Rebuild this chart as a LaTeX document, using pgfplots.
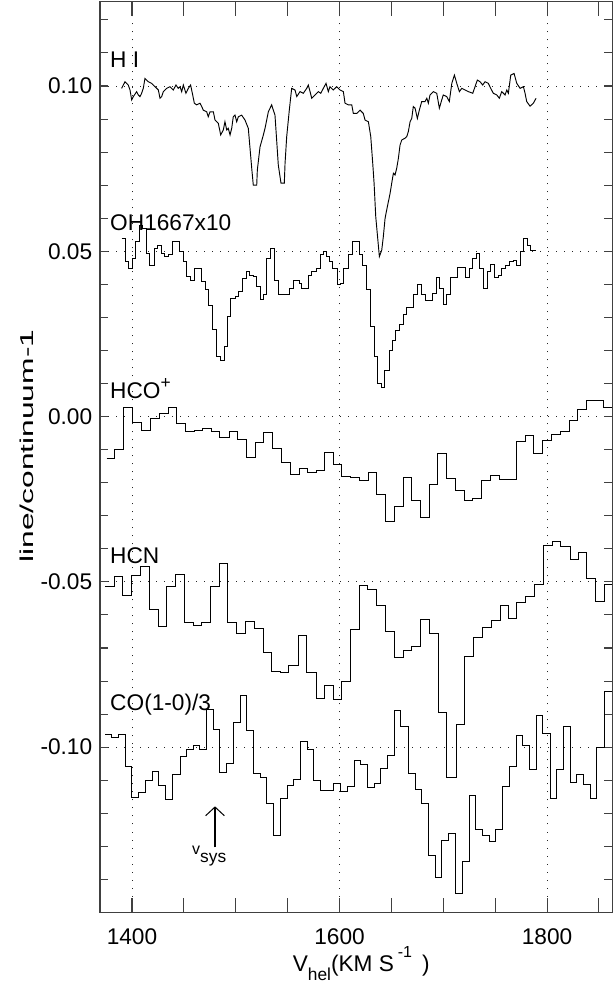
\documentclass[border=0pt]{standalone}
\usepackage{pgfplots}
\pgfplotsset{compat=1.18}
\usepackage{fontspec}
\setmainfont{Liberation Sans}
\usetikzlibrary{arrows.meta}
\begin{document}
\begin{tikzpicture}
\fontsize{17}{20}\selectfont
\begin{axis}[
  scale only axis, width=384pt, height=682.9pt,
  xmin=1369.2, xmax=1862.7, ymin=-0.150, ymax=0.1255,
  clip=false,
  axis line style={line width=0.9pt, black!75},
  xtick={1400,1600,1800}, xticklabels={1400,1600,1800},
  minor xtick={1450,1500,1550,1650,1700,1750,1850},
  ytick={-0.10,-0.05,0,0.05,0.10}, yticklabels={-0.10,-0.05,0.00,0.05,0.10},
  minor ytick={-0.14,-0.13,-0.12,-0.11,-0.09,-0.08,-0.07,-0.06,-0.04,-0.03,-0.02,-0.01,0.01,0.02,0.03,0.04,0.06,0.07,0.08,0.09,0.11,0.12},
  tick style={line width=0.8pt, black!75},
  xtick style={/pgfplots/major tick length=10.5pt, /pgfplots/minor tick length=10.5pt},
  ytick style={/pgfplots/major tick length=6pt, /pgfplots/minor tick length=6pt},
  grid=major,
  major grid style={black!85, line width=0.7pt, dash pattern=on 0.7pt off 5.3pt},
  tick label style={font=\fontsize{17}{20}\selectfont},
  xticklabel style={yshift=-6pt},
]
\coordinate (bl) at (rel axis cs:0,0);
\coordinate (tr) at (rel axis cs:1,1);
% H I
\addplot[black, line width=0.7pt] coordinates {(1390.0,0.0993)(1393.3,0.1013)(1396.4,0.1003)(1398.1,0.0988)(1399.7,0.0958)(1401.3,0.0968)(1404.5,0.0983)(1406.1,0.0973)(1407.7,0.0968)(1409.3,0.0978)(1410.9,0.0993)(1412.5,0.1023)(1415.7,0.1013)(1419.0,0.1008)(1422.2,0.0998)(1425.4,0.0988)(1427.0,0.0963)(1428.6,0.0968)(1430.2,0.0983)(1433.4,0.0993)(1436.6,0.0998)(1439.8,0.0988)(1442.4,0.1003)(1444.6,0.0993)(1446.3,0.0998)(1447.9,0.0983)(1449.5,0.1003)(1452.0,0.0978)(1454.3,0.0993)(1456.5,0.1003)(1458.5,0.0973)(1460.1,0.0948)(1462.3,0.0943)(1465.5,0.0948)(1467.2,0.0938)(1468.7,0.0927)(1472.0,0.0922)(1473.5,0.0907)(1475.2,0.0922)(1478.4,0.0922)(1480.0,0.0897)(1483.2,0.0887)(1485.5,0.0852)(1488.0,0.0867)(1489.6,0.0892)(1491.3,0.0867)(1492.8,0.0872)(1494.5,0.0852)(1496.1,0.0872)(1497.6,0.0907)(1499.3,0.0912)(1500.9,0.0892)(1502.5,0.0907)(1505.7,0.0912)(1508.9,0.0897)(1512.1,0.0872)(1515.4,0.0751)(1516.9,0.0700)(1520.2,0.0700)(1520.8,0.0746)(1523.4,0.0816)(1526.6,0.0852)(1528.2,0.0872)(1531.4,0.0922)(1534.6,0.0943)(1536.2,0.0927)(1537.8,0.0912)(1541.0,0.0761)(1543.6,0.0706)(1546.8,0.0706)(1547.5,0.0766)(1549.1,0.0847)(1551.6,0.0927)(1553.9,0.0993)(1557.1,0.0988)(1558.8,0.0968)(1561.9,0.0983)(1565.1,0.0978)(1568.4,0.0993)(1569.9,0.1003)(1571.6,0.0983)(1573.2,0.0963)(1576.4,0.0973)(1579.6,0.0983)(1581.9,0.0978)(1584.4,0.0993)(1587.0,0.1008)(1589.2,0.0983)(1590.8,0.0998)(1594.0,0.0988)(1597.3,0.0998)(1600.5,0.0988)(1603.7,0.0983)(1605.3,0.0948)(1608.5,0.0943)(1611.8,0.0943)(1613.3,0.0917)(1616.6,0.0917)(1619.8,0.0927)(1622.9,0.0917)(1624.6,0.0897)(1627.8,0.0892)(1630.1,0.0847)(1632.0,0.0766)(1633.3,0.0706)(1634.9,0.0605)(1636.8,0.0539)(1638.4,0.0484)(1640.7,0.0504)(1642.2,0.0544)(1643.9,0.0600)(1646.1,0.0635)(1648.7,0.0675)(1650.3,0.0706)(1651.9,0.0736)(1653.5,0.0731)(1655.1,0.0751)(1656.7,0.0781)(1658.3,0.0821)(1660.0,0.0837)(1663.1,0.0842)(1664.8,0.0847)(1666.3,0.0862)(1668.0,0.0892)(1669.6,0.0902)(1671.1,0.0938)(1672.8,0.0933)(1675.0,0.0902)(1676.9,0.0927)(1679.2,0.0953)(1682.4,0.0953)(1684.1,0.0963)(1685.6,0.0948)(1687.2,0.0973)(1690.4,0.0983)(1693.7,0.0978)(1696.2,0.0933)(1698.5,0.0958)(1700.0,0.0973)(1703.3,0.0968)(1705.8,0.0953)(1708.2,0.1008)(1710.7,0.1033)(1713.0,0.1008)(1715.5,0.0983)(1717.8,0.0993)(1721.0,0.0988)(1724.2,0.0983)(1728.4,0.0978)(1730.6,0.0998)(1732.8,0.1018)(1735.4,0.1013)(1738.0,0.1003)(1740.2,0.1013)(1743.4,0.1008)(1745.7,0.0993)(1748.2,0.0978)(1751.5,0.0973)(1754.0,0.0963)(1756.3,0.0983)(1759.5,0.0973)(1761.2,0.0988)(1762.7,0.0978)(1765.0,0.1033)(1768.2,0.1038)(1770.8,0.1008)(1774.0,0.0993)(1777.2,0.0998)(1778.8,0.0978)(1780.4,0.0953)(1783.6,0.0939)(1786.8,0.0948)(1789.4,0.0963)};
% OH
\addplot[black, line width=0.75pt, const plot] coordinates {(1390.0,0.0539)(1393.3,0.0468)(1396.5,0.0448)(1400.3,0.0479)(1403.5,0.0529)(1407.7,0.0579)(1410.3,0.0569)(1414.1,0.0494)(1417.3,0.0458)(1421.5,0.0509)(1424.7,0.0519)(1428.6,0.0494)(1431.8,0.0484)(1435.0,0.0489)(1439.2,0.0529)(1445.6,0.0499)(1449.5,0.0468)(1452.7,0.0423)(1456.5,0.0413)(1460.7,0.0448)(1467.2,0.0408)(1470.4,0.0383)(1473.6,0.0337)(1477.8,0.0262)(1481.6,0.0181)(1485.5,0.0171)(1488.7,0.0211)(1491.9,0.0302)(1495.4,0.0358)(1499.3,0.0363)(1502.5,0.0378)(1506.7,0.0418)(1509.9,0.0438)(1513.1,0.0428)(1516.9,0.0423)(1520.2,0.0393)(1524.0,0.0353)(1527.2,0.0368)(1529.8,0.0479)(1533.7,0.0509)(1536.9,0.0413)(1541.0,0.0368)(1551.6,0.0388)(1555.5,0.0413)(1561.0,0.0403)(1563.5,0.0388)(1570.0,0.0428)(1573.2,0.0438)(1577.4,0.0448)(1581.2,0.0489)(1584.4,0.0499)(1587.6,0.0484)(1590.8,0.0468)(1593.4,0.0448)(1597.9,0.0401)(1601.1,0.0403)(1604.3,0.0448)(1608.5,0.0489)(1612.4,0.0529)(1618.8,0.0489)(1622.0,0.0458)(1626.2,0.0383)(1630.0,0.0272)(1633.3,0.0181)(1636.5,0.0100)(1640.6,0.0088)(1643.2,0.0139)(1647.7,0.0199)(1650.9,0.0229)(1654.1,0.0260)(1657.7,0.0280)(1661.5,0.0310)(1664.7,0.0330)(1671.2,0.0368)(1675.3,0.0401)(1678.6,0.0368)(1683.1,0.0350)(1689.8,0.0371)(1693.0,0.0421)(1696.2,0.0388)(1700.1,0.0340)(1703.3,0.0368)(1706.5,0.0421)(1713.9,0.0451)(1721.0,0.0421)(1725.1,0.0448)(1728.4,0.0479)(1731.6,0.0492)(1734.8,0.0448)(1738.6,0.0388)(1742.5,0.0438)(1745.7,0.0461)(1748.9,0.0421)(1753.1,0.0428)(1756.3,0.0448)(1759.5,0.0458)(1763.7,0.0468)(1767.5,0.0472)(1770.7,0.0458)(1774.0,0.0499)(1777.2,0.0539)(1781.0,0.0519)(1784.3,0.0502)(1789.4,0.0502)};
% HCO+
\addplot[black, line width=0.75pt, const plot] coordinates {(1375.6,-0.0127)(1383.6,-0.0101)(1392.3,0.0028)(1400.6,-0.0019)(1409.3,-0.0041)(1418.0,-0.0006)(1426.3,0.0010)(1435.0,0.0028)(1443.1,-0.0021)(1452.0,-0.0044)(1460.1,-0.0041)(1468.1,-0.0036)(1476.8,-0.0046)(1484.8,-0.0063)(1493.5,-0.0044)(1501.9,-0.0069)(1510.5,-0.0125)(1518.6,-0.0079)(1526.6,-0.0048)(1535.3,-0.0096)(1544.3,-0.0139)(1552.3,-0.0175)(1561.0,-0.0158)(1569.0,-0.0169)(1577.4,-0.0162)(1586.0,-0.0108)(1594.1,-0.0144)(1602.1,-0.0180)(1610.8,-0.0184)(1619.1,-0.0194)(1627.8,-0.0170)(1635.8,-0.0235)(1644.5,-0.0316)(1652.8,-0.0271)(1661.5,-0.0184)(1669.6,-0.0253)(1678.2,-0.0305)(1686.3,-0.0204)(1694.6,-0.0111)(1703.3,-0.0187)(1711.3,-0.0225)(1720.0,-0.0253)(1728.4,-0.0248)(1737.0,-0.0194)(1745.1,-0.0177)(1753.7,-0.0189)(1770.1,-0.0076)(1778.8,-0.0058)(1786.8,-0.0111)(1795.5,-0.0071)(1803.9,-0.0054)(1812.5,-0.0044)(1821.2,-0.0013)(1829.2,0.0022)(1837.6,0.0048)(1854.3,0.0028)(1862.7,0.0028)};
% HCN
\addplot[black, line width=0.75pt, const plot] coordinates {(1374.0,-0.0513)(1382.7,-0.0483)(1391.0,-0.0542)(1399.7,-0.0482)(1408.4,-0.0454)(1416.4,-0.0585)(1425.4,-0.0634)(1433.4,-0.0513)(1442.4,-0.0478)(1450.4,-0.0623)(1459.1,-0.0631)(1467.2,-0.0624)(1475.8,-0.0513)(1484.2,-0.0445)(1492.2,-0.0623)(1500.9,-0.0656)(1509.6,-0.0619)(1517.6,-0.0641)(1526.6,-0.0715)(1534.6,-0.0770)(1543.3,-0.0775)(1551.3,-0.0752)(1560.3,-0.0662)(1568.4,-0.0775)(1577.4,-0.0853)(1586.0,-0.0814)(1594.1,-0.0856)(1602.1,-0.0800)(1610.8,-0.0643)(1619.1,-0.0510)(1626.8,-0.0522)(1635.8,-0.0570)(1644.5,-0.0651)(1652.8,-0.0729)(1661.5,-0.0709)(1669.6,-0.0695)(1678.2,-0.0615)(1686.6,-0.0657)(1695.3,-0.0896)(1703.3,-0.1093)(1712.3,-0.0931)(1720.3,-0.0725)(1729.0,-0.0669)(1737.7,-0.0637)(1746.0,-0.0617)(1754.7,-0.0572)(1762.7,-0.0610)(1770.8,-0.0562)(1779.4,-0.0543)(1787.8,-0.0507)(1796.5,-0.0389)(1805.1,-0.0377)(1813.2,-0.0394)(1822.2,-0.0433)(1830.2,-0.0412)(1838.2,-0.0491)(1846.9,-0.0560)(1855.3,-0.0507)(1862.7,-0.0507)};
% CO
\addplot[black, line width=0.75pt, const plot] coordinates {(1374.0,-0.0962)(1380.4,-0.0972)(1386.8,-0.0962)(1393.3,-0.1060)(1399.7,-0.1152)(1406.7,-0.1138)(1413.2,-0.1100)(1419.6,-0.1075)(1426.0,-0.1117)(1432.5,-0.1157)(1439.2,-0.1083)(1446.3,-0.1029)(1452.7,-0.1007)(1459.1,-0.0996)(1465.5,-0.1006)(1472.0,-0.0886)(1478.4,-0.0947)(1484.8,-0.1078)(1491.2,-0.1049)(1497.7,-0.0926)(1504.1,-0.0843)(1510.5,-0.0951)(1516.9,-0.1080)(1524.0,-0.1092)(1529.8,-0.1170)(1536.2,-0.1268)(1543.3,-0.1155)(1549.7,-0.1117)(1556.1,-0.1098)(1562.6,-0.0982)(1569.0,-0.1006)(1574.8,-0.1102)(1581.9,-0.1132)(1594.1,-0.1110)(1600.5,-0.1135)(1607.6,-0.1118)(1614.0,-0.1039)(1620.4,-0.1052)(1626.8,-0.1123)(1633.3,-0.1110)(1639.7,-0.1065)(1646.1,-0.1024)(1652.8,-0.0890)(1659.0,-0.0937)(1666.3,-0.1080)(1672.8,-0.1127)(1679.2,-0.1169)(1685.6,-0.1329)(1692.7,-0.1394)(1698.5,-0.1281)(1704.9,-0.1261)(1711.3,-0.1443)(1718.4,-0.1347)(1724.8,-0.1145)(1731.2,-0.1248)(1737.7,-0.1268)(1744.1,-0.1286)(1750.5,-0.1249)(1757.0,-0.1118)(1763.7,-0.1059)(1770.1,-0.0964)(1776.6,-0.0996)(1783.0,-0.1068)(1789.4,-0.0903)(1795.8,-0.0959)(1802.9,-0.1155)(1809.3,-0.1068)(1815.7,-0.0937)(1822.2,-0.1106)(1828.6,-0.1083)(1835.0,-0.1112)(1841.4,-0.1155)(1847.9,-0.1001)(1855.3,-0.0833)(1862.7,-0.0833)};
% labels
\node[anchor=base west, inner sep=0] at (axis cs:1378.8,0.1057) {H I};
\node[anchor=base west, inner sep=0] at (axis cs:1378.8,0.0564) {OH1667x10};
\node[anchor=base west, inner sep=0] at (axis cs:1378.8,0.0056) {HCO\raisebox{7pt}{\fontsize{13}{15}\selectfont +}};
\node[anchor=base west, inner sep=0] at (axis cs:1378.8,-0.0443) {HCN};
\node[anchor=base west, inner sep=0] at (axis cs:1378.8,-0.0888) {CO(1-0)/3};
\draw[line width=0.75pt, black, -{Straight Barb[length=6.5pt,width=14pt]}] (axis cs:1480,-0.1303) -- (axis cs:1480,-0.1179);
\node[anchor=base west, inner sep=0] at (axis cs:1457.8,-0.1324) {{\fontsize{12}{14}\selectfont v}\raisebox{-6pt}{\fontsize{13}{15}\selectfont sys}};
\node[anchor=base, inner sep=0] at ([yshift=-44pt]rel axis cs:0.51,0) {V\raisebox{-7pt}{\fontsize{13}{15}\selectfont hel}(KM S\,\raisebox{10pt}{\fontsize{12}{14}\selectfont -1}\, )};
\node[anchor=base, inner sep=0, rotate=90, xscale=1.7] at ([xshift=-50pt]rel axis cs:0,0.512) {\fontsize{14}{16}\selectfont line/continuum-1};
\end{axis}
\pgfresetboundingbox
\path ([shift={(-75pt,-55.9pt)}]bl) rectangle ([shift={(0pt,1.3pt)}]tr);
\end{tikzpicture}
\end{document}
